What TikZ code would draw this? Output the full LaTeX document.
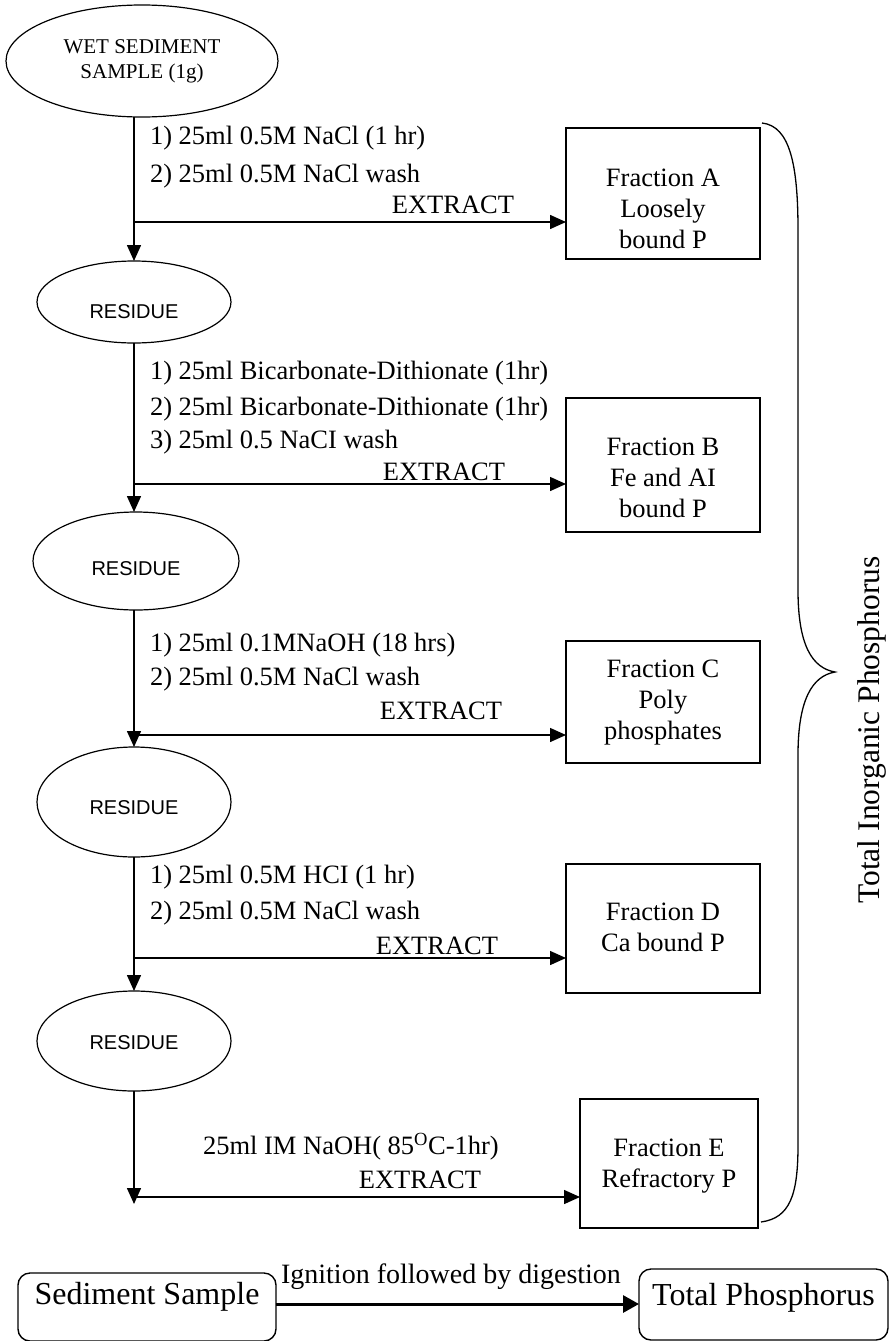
\documentclass[tikz,border=0pt]{standalone}
\usepackage{fontspec}
\setmainfont{Liberation Serif}
\newfontfamily\arialfont{Liberation Sans}
\usetikzlibrary{arrows.meta,shapes.geometric}
\newcommand{\lowered}[2]{\raisebox{-#1}[\height][\depth]{\begin{tabular}{@{}c@{}}#2\end{tabular}}}
\newcommand{\lowres}[1]{\raisebox{-#1}[\height][\depth]{RESIDUE}}
\begin{document}
\begin{tikzpicture}[x=1pt,y=-1pt,
  every node/.style={inner sep=0pt, outer sep=0pt},
  conn/.style={line width=1.5pt, -{Triangle[length=16pt,width=14pt]}},
  oval/.style={draw, ellipse, line width=1.2pt, minimum width=194pt},
  fracbox/.style={draw, rectangle, line width=1.6pt, minimum width=194pt, font=\fontsize{26.5}{31}\selectfont},
  steptext/.style={anchor=west, font=\fontsize{26.5}{30}\selectfont},
  extract/.style={font=\fontsize{26.5}{30}\selectfont},
  resfont/.style={font=\arialfont\fontsize{20}{24}\selectfont},
  endbox/.style={draw, rounded corners=12pt, line width=1.4pt, anchor=north west, font=\fontsize{32}{36}\selectfont}
]
\useasboundingbox (0,0) rectangle (891,1341);
\fill[white] (0,0) rectangle (891,1341);

% ovals
\node[oval, minimum width=272pt, minimum height=112pt, align=center, font=\fontsize{21}{25}\selectfont] (wet) at (142,61) {WET SEDIMENT\\SAMPLE (1g)};
\node[oval, minimum height=82pt, resfont] (r1) at (134,302) {\lowres{10pt}};
\node[oval, minimum width=206pt, minimum height=98pt, resfont] (r2) at (136,561) {\lowres{8pt}};
\node[oval, minimum height=110pt, resfont] (r3) at (134,802) {\lowres{6pt}};
\node[oval, minimum height=100pt, resfont] (r4) at (134,1041) {\lowres{2pt}};

% fraction boxes
\node[fracbox, minimum height=131pt] (fA) at (663,193.5) {\lowered{18pt}{Fraction A\\Loosely\\bound P}};
\node[fracbox, minimum height=134pt] (fB) at (663,465) {\lowered{15pt}{Fraction B\\Fe and AI\\bound P}};
\node[fracbox, minimum height=122pt] (fC) at (663,702) {\lowered{0pt}{Fraction C\\Poly\\phosphates}};
\node[fracbox, minimum height=129pt] (fD) at (663,928.5) {\lowered{1pt}{Fraction D\\Ca bound P}};
\node[fracbox, minimum width=178pt, minimum height=129pt] (fE) at (669,1163.5) {\lowered{2pt}{Fraction E\\Refractory P}};

% step texts
\node[steptext] (s1a) at (150,138) {1) 25ml 0.5M NaCl (1 hr)};
\node[steptext] (s1b) at (150,176) {2) 25ml 0.5M NaCl wash};
\node[extract] (e1) at (453,205) {EXTRACT};

\node[steptext] (s2a) at (150,373) {1) 25ml Bicarbonate-Dithionate (1hr)};
\node[steptext] (s2b) at (150,409) {2) 25ml Bicarbonate-Dithionate (1hr)};
\node[steptext] (s2c) at (150,442) {3) 25ml 0.5 NaCI wash};
\node[extract] (e2) at (444,472) {EXTRACT};

\node[steptext] (s3a) at (150,645) {1) 25ml 0.1MNaOH (18 hrs)};
\node[steptext] (s3b) at (150,679) {2) 25ml 0.5M NaCl wash};
\node[extract] (e3) at (441,711) {EXTRACT};

\node[steptext] (s4a) at (150,877) {1) 25ml 0.5M HCI (1 hr)};
\node[steptext] (s4b) at (150,913) {2) 25ml 0.5M NaCl wash};
\node[extract] (e4) at (437,946) {EXTRACT};

\node[steptext] (s5a) at (203,1147) {25ml IM NaOH( 85\textsuperscript{O}C-1hr)};
\node[extract] (e5) at (420,1180) {EXTRACT};

% junctions
\coordinate (j1) at (134,222);
\coordinate (j2) at (134,484);
\coordinate (j3) at (134,735);
\coordinate (j4) at (134,958);
\coordinate (j5) at (134,1197);
\coordinate (j5end) at (134,1204);

% vertical connectors
\draw[conn] (r1.north |- wet.south) -- (r1.north);
\draw[conn] (r1.south) -- (r2.north -| r1.south);
\draw[conn] (r2.south -| r1.south) -- (r3.north);
\draw[conn] (r3.south) -- (r4.north);
\draw[conn] (r4.south) -- (j5end);

% horizontal connectors
\draw[conn] (j1) -- (fA.west |- j1);
\draw[conn] (j2) -- (fB.west |- j2);
\draw[conn] (j3) -- (fC.west |- j3);
\draw[conn] (j4) -- (fD.west |- j4);
\draw[conn] (j5) -- (fE.west |- j5);

% brace
\draw[line width=1.3pt] (762,123) .. controls (790,126) and (798,165) .. (798,230) -- (798,590)
  .. controls (798,645) and (812,668) .. (835,672)
  .. controls (812,676) and (798,700) .. (798,755) -- (798,1145)
  .. controls (798,1195) and (790,1218) .. (761,1222);
\node[rotate=90, font=\fontsize{31.5}{36}\selectfont] (tip) at (872,730) {Total Inorganic Phosphorus};

% bottom
\node[endbox, minimum width=258pt, text height=31pt, text depth=37pt] (ss) at (18,1273) {Sediment Sample};
\node[endbox, minimum width=249pt, text height=36pt, text depth=35pt] (tp) at (639,1269) {Total Phosphorus};
\coordinate (ssout) at ([yshift=3pt]ss.east);
\draw[line width=3pt, -{Triangle[length=16pt,width=17pt]}] (ssout) -- (tp.west |- ssout);
\node[font=\fontsize{28}{32}\selectfont] (ign) at (451,1277) {Ignition followed by digestion};
\end{tikzpicture}
\end{document}
